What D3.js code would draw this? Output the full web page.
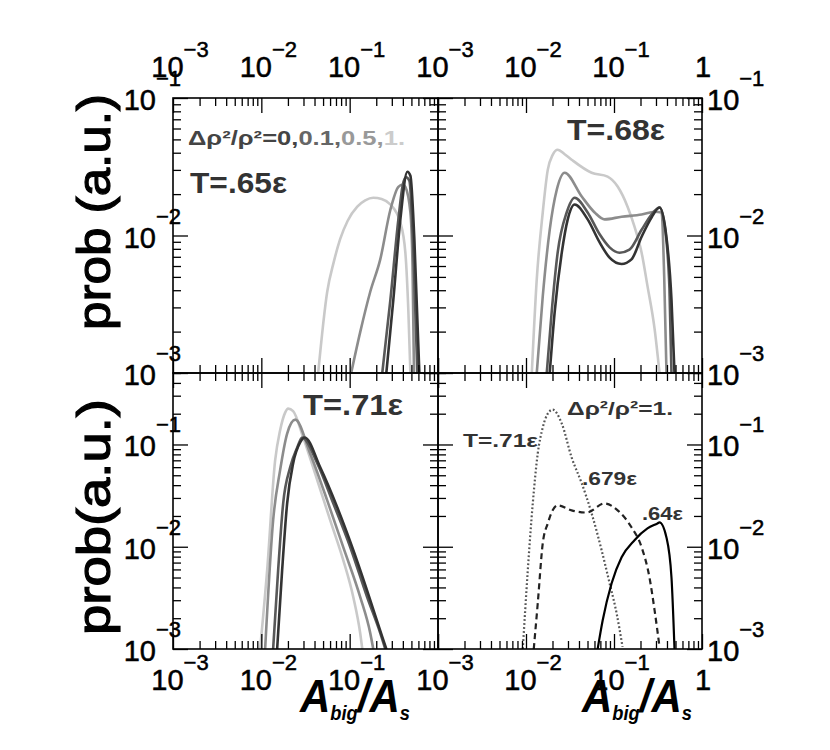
<!DOCTYPE html>
<html><head><meta charset="utf-8">
<script src="https://cdn.jsdelivr.net/npm/d3@7"></script>
<style>body{margin:0;background:#fff} svg{display:block}</style>
</head><body>
<svg id="c" width="830" height="750"></svg>
<script>
// ---------------- data ----------------
const X_DOMAIN = [1e-3, 1];
const Y_DOMAIN_TOP = [1e-3, 1e-1];
const Y_DOMAIN_BOTTOM = [1e-3, 0.5];
const xTickValues = [1e-3, 1e-2, 1e-1, 1];
const xTickExponents = ["\u22123", "\u22122", "\u22121", ""];
const yTickValues = [1e-3, 1e-2, 1e-1];
const yTickExponents = ["\u22123", "\u22122", "\u22121"];

const dpLevels = ["0,", "0.1,", "0.5,", "1."];
const panelTitles = ["T=.65\u03b5", "T=.68\u03b5", "T=.71\u03b5"];
const brLabels = ["\u0394\u03c1\u00b2/\u03c1\u00b2=1.", "T=.71\u03b5", ".679\u03b5", ".64\u03b5"];

// T=.65 (top-left), curves for dp = 0, 0.1, 0.5, 1.
const tl_dp0  = [[0.26,0.001],[0.312,0.0034],[0.375,0.0131],[0.45,0.0291],[0.487,0.0272],[0.54,0.0094],[0.615,0.001]];
const tl_dp01 = [[0.234,0.001],[0.289,0.0034],[0.356,0.0131],[0.40,0.0235],[0.435,0.0265],[0.474,0.0250],[0.526,0.0079],[0.584,0.001]];
const tl_dp05 = [[0.104,0.001],[0.132,0.002],[0.171,0.0039],[0.222,0.0067],[0.289,0.0154],[0.356,0.0226],[0.40,0.0235],[0.427,0.0226],[0.487,0.0147],[0.515,0.006],[0.535,0.001]];
const tl_dp1  = [[0.044,0.001],[0.0557,0.0039],[0.066,0.0064],[0.078,0.0094],[0.095,0.0128],[0.122,0.0162],[0.15,0.0180],[0.185,0.0188],[0.23,0.0184],[0.289,0.0168],[0.375,0.0124],[0.427,0.0075],[0.462,0.0028],[0.487,0.001]];

// T=.68 (top-right)
const tr_dp0  = [[0.0186,0.001],[0.0212,0.0028],[0.0255,0.0075],[0.0298,0.0131],[0.0357,0.0168],[0.0502,0.0131],[0.0687,0.0089],[0.0891,0.0069],[0.122,0.0062],[0.158,0.0067],[0.206,0.0098],[0.267,0.0135],[0.329,0.016],[0.385,0.011],[0.45,0.0034],[0.487,0.001]];
const tr_dp01 = [[0.01721,0.001],[0.0196,0.0028],[0.0229,0.0075],[0.029,0.0147],[0.0357,0.0188],[0.0502,0.0147],[0.0687,0.0102],[0.0891,0.0082],[0.1157,0.0075],[0.150,0.0079],[0.206,0.011],[0.267,0.0142],[0.329,0.016],[0.375,0.012],[0.427,0.0041],[0.45,0.001]];
const tr_dp05 = [[0.01325,0.001],[0.0155,0.0036],[0.0186,0.011],[0.0224,0.0216],[0.0275,0.0286],[0.043,0.0192],[0.0603,0.0147],[0.0782,0.0131],[0.122,0.0137],[0.206,0.0142],[0.289,0.0149],[0.347,0.0147],[0.372,0.005],[0.395,0.001]];
const tr_dp1  = [[0.01164,0.001],[0.01325,0.0048],[0.0155,0.0147],[0.01767,0.030],[0.0201,0.0386],[0.0229,0.042],[0.0275,0.039],[0.033,0.0356],[0.0557,0.0286],[0.0846,0.0268],[0.11,0.0227],[0.1426,0.0162],[0.171,0.0116],[0.206,0.0075],[0.24,0.0043],[0.289,0.0021],[0.329,0.001]];

// T=.71 (bottom-left)
const bl_dp0  = [[0.0151,0.001],[0.0172,0.0059],[0.0196,0.0266],[0.0229,0.0653],[0.0275,0.1046],[0.031,0.117],[0.0464,0.0597],[0.0723,0.0243],[0.11,0.00925],[0.171,0.00301],[0.234,0.00131],[0.26,0.001]];
const bl_dp01 = [[0.0136,0.001],[0.0155,0.0059],[0.01767,0.0266],[0.0212,0.0597],[0.0255,0.0935],[0.029,0.117],[0.043,0.0653],[0.0652,0.0266],[0.1016,0.0099],[0.158,0.0032],[0.222,0.00143],[0.253,0.001]];
const bl_dp05 = [[0.01104,0.001],[0.0136,0.0181],[0.0163,0.0558],[0.0196,0.128],[0.0242,0.175],[0.0357,0.0817],[0.0557,0.0284],[0.0846,0.0099],[0.132,0.0032],[0.171,0.00143],[0.185,0.001]];
const bl_dp1  = [[0.00969,0.001],[0.01164,0.0059],[0.01433,0.0698],[0.0163,0.137],[0.0186,0.205],[0.0201,0.224],[0.0229,0.212],[0.0298,0.117],[0.043,0.0446],[0.0603,0.0181],[0.0846,0.0074],[0.11,0.0032],[0.132,0.0014],[0.139,0.001]];

// dp = 1. (bottom-right), T = .71, .679, .64
const br_T71  = [[0.0092,0.001],[0.01048,0.0059],[0.01194,0.0266],[0.0136,0.0817],[0.0155,0.1465],[0.01767,0.2],[0.0201,0.219],[0.0255,0.16],[0.033,0.0746],[0.043,0.0417],[0.0557,0.0212],[0.0723,0.00925],[0.0891,0.0044],[0.107,0.00224],[0.125,0.00105]];
const br_T679 = [[0.01225,0.001],[0.0136,0.0028],[0.0155,0.0108],[0.01767,0.0169],[0.0201,0.0227],[0.0229,0.0254],[0.033,0.0227],[0.049,0.0216],[0.078,0.0265],[0.11,0.0227],[0.158,0.0155],[0.206,0.0099],[0.253,0.005],[0.289,0.0024],[0.329,0.00105]];
const br_T64  = [[0.0652,0.001],[0.0743,0.0019],[0.094,0.0044],[0.122,0.0079],[0.171,0.0116],[0.24,0.0151],[0.312,0.0169],[0.329,0.0173],[0.394,0.0124],[0.45,0.005],[0.487,0.001]];

// ---------------- styles / layout ----------------
const FONT = "'Liberation Sans', Arial, Helvetica, sans-serif";
const grayByLevel = ["#333333", "#585858", "#8c8c8c", "#c9c9c9"]; // dp 0, 0.1, 0.5, 1.
const legendColors = ["#444444", "#666666", "#999999", "#cccccc"];
const XL = 173, XM = 438, XR = 702, YT = 98, YM = 373, YB = 649;

const svg = d3.select("#c");
const defs = svg.append("defs");

function grayStack(arrs) {
  return [3, 2, 1, 0].map(i => ({data: arrs[i], color: grayByLevel[i], width: 2.6}));
}

const panels = [
  {id: "tl", x0: XL, x1: XM, y0: YT, y1: YM, ydom: Y_DOMAIN_TOP, series: grayStack([tl_dp0, tl_dp01, tl_dp05, tl_dp1])},
  {id: "tr", x0: XM, x1: XR, y0: YT, y1: YM, ydom: Y_DOMAIN_TOP, series: grayStack([tr_dp0, tr_dp01, tr_dp05, tr_dp1])},
  {id: "bl", x0: XL, x1: XM, y0: YM, y1: YB, ydom: Y_DOMAIN_BOTTOM, series: grayStack([bl_dp0, bl_dp01, bl_dp05, bl_dp1])},
  {id: "br", x0: XM, x1: XR, y0: YM, y1: YB, ydom: Y_DOMAIN_BOTTOM, series: [
    {data: br_T71, color: "#555", width: 2.2, dash: "1.8,2.2"},
    {data: br_T679, color: "#222", width: 2.2, dash: "6,4"},
    {data: br_T64, color: "#000", width: 2.2}
  ]}
];

const isMajor = v => Math.abs(Math.log10(v) - Math.round(Math.log10(v))) < 1e-6;

const scales = {};
panels.forEach(p => {
  const x = d3.scaleLog().domain(X_DOMAIN).range([p.x0, p.x1]);
  const y = d3.scaleLog().domain(p.ydom).range([p.y1, p.y0]);
  scales[p.id] = {x, y};
  const g = svg.append("g");
  defs.append("clipPath").attr("id", "clip-" + p.id).append("rect")
    .attr("x", p.x0).attr("y", p.y0).attr("width", p.x1 - p.x0).attr("height", p.y1 - p.y0);
  const line = d3.line().x(d => x(d[0])).y(d => y(d[1])).curve(d3.curveMonotoneX);
  const cg = g.append("g").attr("clip-path", `url(#clip-${p.id})`);
  p.series.forEach(s => {
    cg.append("path").attr("d", line(s.data)).attr("fill", "none")
      .attr("stroke", s.color).attr("stroke-width", s.width)
      .attr("stroke-dasharray", s.dash || null)
      .attr("stroke-linejoin", "round").attr("stroke-linecap", s.dash ? "butt" : "round");
  });
  const axes = [
    {axis: d3.axisBottom(x), tr: `translate(0,${p.y0})`, attr: "y2", sign: 1},
    {axis: d3.axisTop(x), tr: `translate(0,${p.y1})`, attr: "y2", sign: -1},
    {axis: d3.axisRight(y), tr: `translate(${p.x0},0)`, attr: "x2", sign: 1},
    {axis: d3.axisLeft(y), tr: `translate(${p.x1},0)`, attr: "x2", sign: -1}
  ];
  axes.forEach(a => {
    const ag = g.append("g").attr("transform", a.tr)
      .call(a.axis.tickFormat("").tickSizeOuter(0).tickSize(8));
    ag.select(".domain").remove();
    ag.selectAll(".tick text").remove();
    ag.selectAll(".tick line").attr(a.attr, d => a.sign * (isMajor(d) ? 15 : 8))
      .attr("stroke", "#000").attr("stroke-width", 1.3);
  });
  g.append("rect").attr("x", p.x0).attr("y", p.y0).attr("width", p.x1 - p.x0).attr("height", p.y1 - p.y0)
    .attr("fill", "none").attr("stroke", "#000").attr("stroke-width", 1.6);
});

// ---------------- tick labels ----------------
const labels = svg.append("g").attr("font-family", FONT).attr("fill", "#000")
  .attr("stroke", "#000").attr("stroke-width", 0.5);
function powLabel(x, y, exp, anchor, expRise) {
  const t = labels.append("text").attr("x", x).attr("y", y).attr("text-anchor", anchor).attr("font-size", 29);
  if (exp === "") { t.text("1"); return; }
  t.append("tspan").text("10");
  t.append("tspan").attr("font-size", 22).attr("dy", -expRise).text(exp);
}
// x labels: top of top panels, bottom of bottom panels
[["tl", 77, false], ["tr", 77, true], ["bl", 690, false], ["br", 690, true]].forEach(([id, yy, withOne]) => {
  const x = scales[id].x;
  xTickValues.forEach((v, i) => {
    if (xTickExponents[i] === "" && !withOne) return;
    powLabel(x(v) + (xTickExponents[i] === "" ? 1 : 7), yy, xTickExponents[i], "middle", 20);
  });
});
// y labels
[["tl", 181, "end"], ["bl", 181, "end"], ["tr", 707, "start"], ["br", 707, "start"]].forEach(([id, xx, anchor]) => {
  const y = scales[id].y;
  yTickValues.forEach((v, i) => powLabel(xx, y(v) + 12, yTickExponents[i], anchor, 24));
});

// ---------------- axis titles ----------------
const titles = svg.append("g").attr("font-family", FONT).attr("fill", "#000");
[["prob (a.u.)", 212], ["prob(a.u.)", 517]].forEach(([txt, cy]) => {
  titles.append("text").attr("transform", `translate(110,${cy}) rotate(-90)`)
    .attr("text-anchor", "middle").attr("font-size", 46)
    .attr("stroke", "#000").attr("stroke-width", 1.2)
    .attr("textLength", 236).attr("lengthAdjust", "spacingAndGlyphs").text(txt);
});
[300, 582].forEach(x0 => {
  const t = titles.append("text").attr("x", x0).attr("y", 712).attr("font-size", 46)
    .attr("font-weight", "bold")
    .attr("font-style", "italic").attr("textLength", 110).attr("lengthAdjust", "spacingAndGlyphs");
  t.append("tspan").text("A");
  t.append("tspan").attr("font-size", 20).attr("dy", 8).text("big");
  t.append("tspan").attr("dy", -8).text("/");
  t.append("tspan").text("A");
  t.append("tspan").attr("font-size", 20).attr("dy", 8).text("s");
});

// ---------------- annotations ----------------
const ann = svg.append("g").attr("font-family", FONT).attr("font-weight", "bold");
const leg = ann.append("text").attr("x", 188).attr("y", 145).attr("font-size", 21)
  .attr("textLength", 217).attr("lengthAdjust", "spacingAndGlyphs");
leg.append("tspan").attr("fill", legendColors[0]).text("\u0394\u03c1\u00b2/\u03c1\u00b2=" + dpLevels[0]);
dpLevels.slice(1).forEach((d, i) => leg.append("tspan").attr("fill", legendColors[i + 1]).text(d));

function note(txt, x, y, size, len) {
  ann.append("text").attr("x", x).attr("y", y).attr("font-size", size).attr("fill", "#333")
    .attr("textLength", len).attr("lengthAdjust", "spacingAndGlyphs").text(txt);
}
note(panelTitles[0], 190, 193, 29, 97);
note(panelTitles[1], 567, 140, 29, 98);
note(panelTitles[2], 303, 415, 29, 100);
note(brLabels[0], 567, 415, 19, 106);
note(brLabels[1], 463, 447, 19, 75);
note(brLabels[2], 582, 485, 19, 55);
note(brLabels[3], 642, 520, 19, 41);
</script>
</body></html>
